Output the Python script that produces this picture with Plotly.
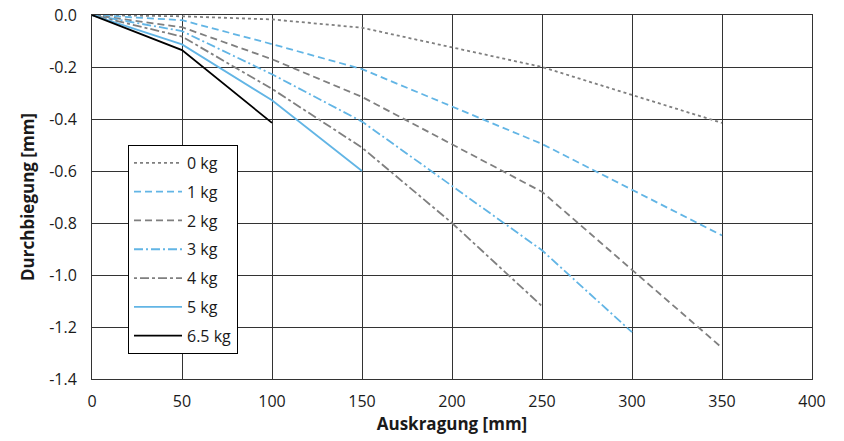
import plotly.graph_objects as go

# Data
x_0kg = [0, 50, 100, 150, 250, 350]
y_0kg = [0, -0.005, -0.017, -0.049, -0.2, -0.415]
x_1kg = [0, 50, 100, 150, 250, 350]
y_1kg = [0, -0.02, -0.112, -0.208, -0.496, -0.848]
x_2kg = [0, 50, 100, 150, 250, 350]
y_2kg = [0, -0.047, -0.17, -0.315, -0.68, -1.28]
x_3kg = [0, 50, 100, 150, 250, 300]
y_3kg = [0, -0.062, -0.228, -0.41, -0.905, -1.22]
x_4kg = [0, 50, 100, 150, 200, 250]
y_4kg = [0, -0.083, -0.284, -0.51, -0.8, -1.12]
x_5kg = [0, 50, 100, 150]
y_5kg = [0, -0.113, -0.328, -0.6]
x_65kg = [0, 50, 100]
y_65kg = [0, -0.135, -0.415]

names = ["0 kg", "1 kg", "2 kg", "3 kg", "4 kg", "5 kg", "6.5 kg"]

x_ticks = [0, 50, 100, 150, 200, 250, 300, 350, 400]
x_ticktext = ["0", "50", "100", "150", "200", "250", "300", "350", "400"]
y_ticks = [0.0, -0.2, -0.4, -0.6, -0.8, -1.0, -1.2, -1.4]
y_ticktext = ["0.0", "-0.2", "-0.4", "-0.6", "-0.8", "-1.0", "-1.2", "-1.4"]

GRAY = "#7f7f7f"
BLUE = "#62b5e5"
BLACK = "#000000"

series = [
    (x_0kg, y_0kg, GRAY, "dot", 1.8),
    (x_1kg, y_1kg, BLUE, "7px,4px", 1.8),
    (x_2kg, y_2kg, GRAY, "7px,4px", 1.8),
    (x_3kg, y_3kg, BLUE, "9px,3px,2px,3px", 1.8),
    (x_4kg, y_4kg, GRAY, "3px,3px,9px,3px", 1.8),
    (x_5kg, y_5kg, BLUE, "solid", 1.8),
    (x_65kg, y_65kg, BLACK, "solid", 1.8),
]

fig = go.Figure()
for (xs, ys, col, dash, w), nm in zip(series, names):
    fig.add_trace(go.Scatter(
        x=xs, y=ys, mode="lines", name=nm, legendgroup=nm,
        line=dict(color=col, dash=dash, width=w),
    ))

FONT = "'Open Sans', Lato, sans-serif"

fig.update_layout(
    width=844, height=441,
    margin=dict(l=92, r=32, t=15, b=62),
    paper_bgcolor="white", plot_bgcolor="white",
    font=dict(family=FONT, size=16, color="#1a1a1a"),
    showlegend=True,
    legend=dict(
        x=0.05, y=0.643, xanchor="left", yanchor="top",
        bgcolor="white", bordercolor="#000000", borderwidth=1,
        font=dict(family=FONT, size=16, color="#1a1a1a"),
        tracegroupgap=5,
        traceorder="grouped",
        itemwidth=48,
    ),
    xaxis=dict(
        range=[0, 400], tickvals=x_ticks, ticktext=x_ticktext,
        showgrid=True, gridcolor="#333333", gridwidth=1,
        showline=True, linecolor="#333333", linewidth=1, mirror=True,
        zeroline=False, ticks="", ticklen=0, ticklabelstandoff=8,
        automargin=False,
        title=dict(text="<b>Auskragung [mm]</b>", font=dict(family=FONT, size=17), standoff=4),
    ),
    yaxis=dict(
        range=[-1.4, 0], tickvals=y_ticks, ticktext=y_ticktext,
        showgrid=True, gridcolor="#333333", gridwidth=1,
        showline=True, linecolor="#333333", linewidth=1, mirror=True,
        zeroline=False, ticks="", ticklen=0, ticklabelstandoff=11,
        automargin=False,
        title=dict(text="<b>Durchbiegung [mm]</b>", font=dict(family=FONT, size=17), standoff=10),
    ),
)

fig.write_html("out.html", config={"displayModeBar": False},
               post_script="document.body.style.margin='0';")
